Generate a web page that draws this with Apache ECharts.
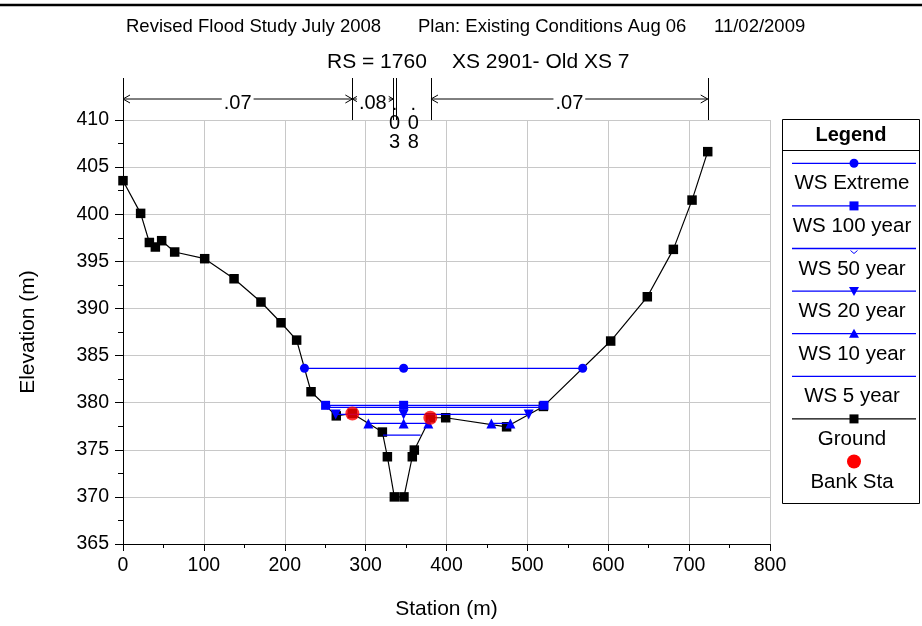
<!DOCTYPE html>
<html>
<head>
<meta charset="utf-8">
<script src="https://cdn.jsdelivr.net/npm/echarts@6/dist/echarts.min.js"></script>
<style>
  html, body { margin: 0; padding: 0; background: #fff; }
  #chart { width: 922px; height: 626px; }
</style>
</head>
<body>
<div id="chart"></div>
<script>
// Cross section RS 1760 – ground profile, bank stations and water surfaces
const groundSta  = [0, 21.8, 32.6, 40, 47.8, 63.9, 101, 137.3, 170.6, 195.4, 214.7, 232.5, 263.7, 283.6,
                    320.7, 326.9, 335.5, 347.4, 357.7, 360.2, 380, 399, 474.3, 519.8, 603, 648.3, 680.5, 703.6, 723];
const groundElev = [403.56, 400.09, 397.0, 396.52, 397.19, 395.99, 395.28, 393.15, 390.68, 388.48, 386.64, 381.16, 378.6, 378.85,
                    376.88, 374.26, 370.0, 370.0, 374.26, 374.97, 378.4, 378.4, 377.44, 379.6, 386.54, 391.24, 396.27, 401.5, 406.64];

const bankSta  = [283.6, 380];
const bankElev = [378.85, 378.4];

const wsExtremeSta = [224.4, 347, 568.4];   const wsExtremeElev = 383.65;
const ws100Sta     = [250.5, 347, 520.5];   const ws100Elev     = 379.72;
const ws50Sta      = [252.7, 347, 517.7];   const ws50Elev      = 379.5;
const ws20Sta      = [263, 347, 501.6];     const ws20Elev      = 378.75;
const ws10Sta      = [303.4, 347, 377.5];   const ws10Elev      = 377.8;
const ws10PondSta  = [455.5, 479];
const ws5Sta       = [321.5, 368];          const ws5Elev       = 376.56;

// Manning's n breakpoints along the section
const nBreaks = [0, 283.6, 334.2, 337.2, 380.8, 723];
const nValues = ['.07', '.08', '.03', '.08', '.07'];

const legendNames = ['WS Extreme', 'WS 100 year', 'WS 50 year', 'WS 20 year', 'WS 10 year', 'WS 5 year', 'Ground', 'Bank Sta'];

const FONT = '"Liberation Sans", Arial, Helvetica, sans-serif';
const BLUE = '#0000ff';
const chart = echarts.init(document.getElementById('chart'), null, { renderer: 'canvas' });

function wsSeries(sta, elev, symbol, size, extra) {
  return Object.assign({
    type: 'line',
    data: sta.map(s => [s, elev]),
    symbol: symbol,
    symbolSize: size,
    showSymbol: symbol !== 'none',
    lineStyle: { color: BLUE, width: 1.3 },
    itemStyle: { color: BLUE },
    emphasis: { disabled: true },
    z: 3
  }, extra || {});
}

const chevron = 'path://M0,0 L5,4 L10,0';

chart.setOption({
  animation: false,
  backgroundColor: '#fff',
  grid: { left: 123, right: 152, top: 120, bottom: 82 },
  xAxis: {
    type: 'value', min: 0, max: 800, interval: 100,
    name: 'Station (m)', nameLocation: 'middle', nameGap: 55,
    nameTextStyle: { fontFamily: FONT, fontSize: 21, color: '#000' },
    axisLine: { show: true, onZero: false, lineStyle: { color: '#000', width: 1 } },
    axisTick: { show: true, inside: false, length: 7, lineStyle: { color: '#000' } },
    minorTick: { show: true, splitNumber: 2, length: 4, lineStyle: { color: '#000' } },
    splitLine: { show: true, lineStyle: { color: '#c8c8c8', width: 1 } },
    axisLabel: { fontFamily: FONT, fontSize: 19.5, color: '#000', margin: 12 }
  },
  yAxis: {
    type: 'value', min: 365, max: 410, interval: 5,
    name: 'Elevation (m)', nameLocation: 'middle', nameGap: 84,
    nameTextStyle: { fontFamily: FONT, fontSize: 21, color: '#000' },
    axisLine: { show: true, onZero: false, lineStyle: { color: '#000', width: 1 } },
    axisTick: { show: true, inside: false, length: 8, lineStyle: { color: '#000' } },
    minorTick: { show: true, splitNumber: 2, length: 5, lineStyle: { color: '#000' } },
    splitLine: { show: true, lineStyle: { color: '#c8c8c8', width: 1 } },
    axisLabel: { fontFamily: FONT, fontSize: 19.5, color: '#000', margin: 14 }
  },
  series: [
    {
      type: 'line',
      data: groundSta.map((s, i) => [s, groundElev[i]]),
      symbol: 'rect', symbolSize: 9.5,
      lineStyle: { color: '#000', width: 1.2 },
      itemStyle: { color: '#000' },
      emphasis: { disabled: true },
      z: 2
    },
    wsSeries(wsExtremeSta, wsExtremeElev, 'circle', 9),
    wsSeries(ws100Sta, ws100Elev, 'rect', 9),
    wsSeries(ws50Sta, ws50Elev, chevron, [6, 3], {
      itemStyle: { color: 'none', borderColor: BLUE, borderWidth: 1 }
    }),
    wsSeries(ws20Sta, ws20Elev, 'triangle', 10, { symbolRotate: 180 }),
    wsSeries(ws10Sta, ws10Elev, 'triangle', 10),
    wsSeries(ws10PondSta, ws10Elev, 'triangle', 10),
    wsSeries(ws5Sta, ws5Elev, 'none', 0),
    {
      type: 'scatter',
      data: bankSta.map((s, i) => [s, bankElev[i]]),
      symbol: 'circle', symbolSize: 14,
      itemStyle: { color: '#ff0000' },
      emphasis: { disabled: true },
      z: 5
    }
  ]
});

// ---- overlay: titles, Manning's n bands, legend ----
const g = [];
const txt = (x, y, text, size, extra) => ({
  type: 'text', x: x, y: y, silent: true,
  style: Object.assign({ text: text, fill: '#000', font: size + 'px ' + FONT, textAlign: 'left', textVerticalAlign: 'middle' }, extra || {})
});
const seg = (x1, y1, x2, y2, color, w) => ({
  type: 'line', silent: true,
  shape: { x1: x1, y1: y1, x2: x2, y2: y2 },
  style: { stroke: color || '#000', lineWidth: w || 1 }
});
const poly = (pts, color) => ({
  type: 'polyline', silent: true, shape: { points: pts },
  style: { stroke: color || '#000', lineWidth: 1, fill: null }
});

// top border
g.push(seg(0, 5, 922, 5, '#000', 2.5));

// titles
g.push(txt(126, 27, 'Revised Flood Study July 2008', 18.5));
g.push(txt(418, 27, 'Plan: Existing Conditions Aug 06', 18.5));
g.push(txt(714, 27, '11/02/2009', 18.5));
g.push(txt(327, 62, 'RS = 1760', 21));
g.push(txt(452, 62, 'XS 2901- Old XS 7', 21));

// Manning's n bands above the plot
const plotTop = chart.convertToPixel({ yAxisIndex: 0 }, 410);
const bandTop = plotTop - 42;
const arrowY = plotTop - 21;
const bx = nBreaks.map(v => chart.convertToPixel({ xAxisIndex: 0 }, v));
bx.forEach(x => g.push(seg(Math.round(x) + 0.5, bandTop, Math.round(x) + 0.5, plotTop, '#000', 1)));
nValues.forEach((n, i) => {
  const x1 = bx[i], x2 = bx[i + 1];
  const cx = (x1 + x2) / 2;
  if (x2 - x1 > 36) {
    g.push(seg(x1, arrowY, x2, arrowY, '#000', 1));
    g.push(poly([[x1 + 7, arrowY - 4], [x1, arrowY], [x1 + 7, arrowY + 4]]));
    g.push(poly([[x2 - 7, arrowY - 4], [x2, arrowY], [x2 - 7, arrowY + 4]]));
    g.push(txt(cx, arrowY + 4, n, 20, { textAlign: 'center', backgroundColor: '#fff', padding: [0, 2] }));
  } else {
    n.split('').forEach((c, k) => {
      g.push(txt(cx, plotTop - 16 + k * 19, c, 20, { textAlign: 'center' }));
    });
  }
});

// legend
const LX1 = 782.5, LX2 = 919.5, LTOP = 119.5, LBOT = 503.5, LCX = 854;
g.push({ type: 'rect', silent: true, shape: { x: LX1, y: LTOP, width: LX2 - LX1, height: LBOT - LTOP },
  style: { fill: '#fff', stroke: '#000', lineWidth: 1 } });
g.push(seg(LX1, 150.5, LX2, 150.5, '#000', 1));
g.push(txt((LX1 + LX2) / 2, 135, 'Legend', 20, { textAlign: 'center', font: 'bold 20px ' + FONT }));

const legendMarkers = ['circle', 'rect', 'chevron', 'down', 'up', 'none', 'rect', 'bank'];
legendNames.forEach((name, i) => {
  const ly = 163.3 + i * 42.6;
  const mk = legendMarkers[i];
  const color = i < 6 ? BLUE : '#000';
  if (mk !== 'bank') g.push(seg(792, ly, 916, ly, color, 1.3));
  if (mk === 'circle') g.push({ type: 'circle', silent: true, shape: { cx: LCX, cy: ly, r: 4.5 }, style: { fill: color } });
  if (mk === 'rect') g.push({ type: 'rect', silent: true, shape: { x: LCX - 4.5, y: ly - 4.5, width: 9, height: 9 }, style: { fill: color } });
  if (mk === 'chevron') g.push(poly([[LCX - 3.5, ly + 2], [LCX, ly + 5], [LCX + 3.5, ly + 2]], color));
  if (mk === 'down') g.push({ type: 'polygon', silent: true, shape: { points: [[LCX - 5, ly - 4], [LCX + 5, ly - 4], [LCX, ly + 5]] }, style: { fill: color } });
  if (mk === 'up') g.push({ type: 'polygon', silent: true, shape: { points: [[LCX - 5, ly + 4], [LCX + 5, ly + 4], [LCX, ly - 5]] }, style: { fill: color } });
  if (mk === 'bank') g.push({ type: 'circle', silent: true, shape: { cx: LCX, cy: ly, r: 7 }, style: { fill: '#ff0000' } });
  g.push(txt(LCX - 2, ly + 20.5, name, 20.5, { textAlign: 'center' }));
});

chart.setOption({ graphic: g });
</script>
</body>
</html>
